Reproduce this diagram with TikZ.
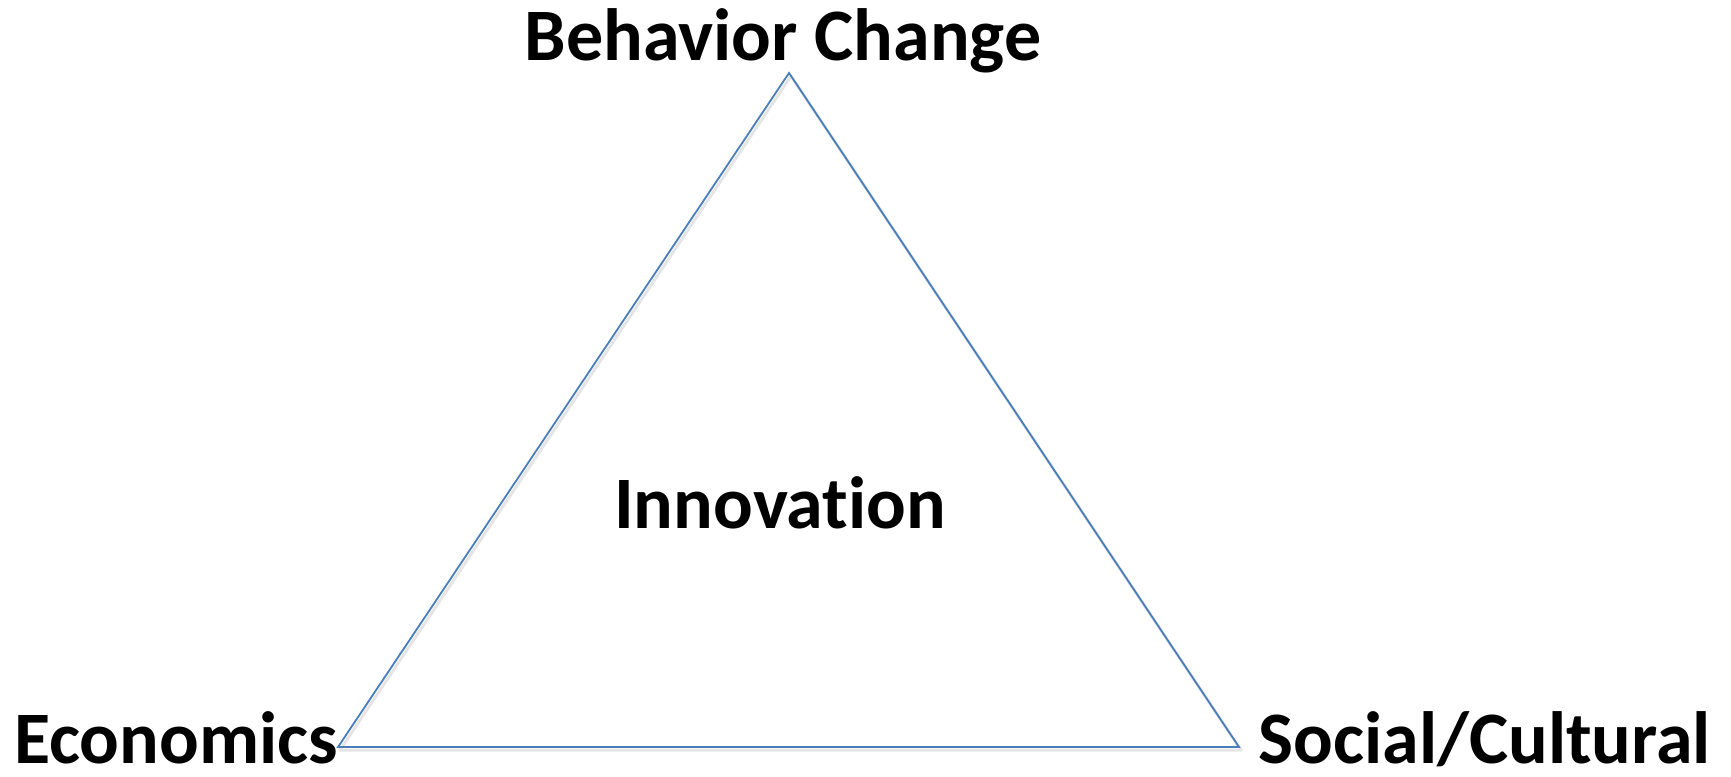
\documentclass[tikz,border=0pt]{standalone}
\usepackage{fontspec}
\setmainfont[Ligatures=CommonOff]{Carlito}
\definecolor{triline}{HTML}{4A7EBB}
\begin{document}
\begin{tikzpicture}[x=1pt,y=-1pt,
  lbl/.style={inner sep=0pt,font=\fontsize{74}{82}\selectfont\bfseries,text=black},
  tri/.style={draw=triline,line width=1.8pt,line join=miter},
  trishadow/.style={draw=black!10,line width=3pt,line join=round}]
\useasboundingbox (0,0) rectangle (1731,776);
\coordinate (top) at (789,73);
\coordinate (left) at (338,747);
\coordinate (right) at (1239,747);
\draw[trishadow] ([shift={(2,3)}]top) -- ([shift={(2,3)}]left) -- ([shift={(2,3)}]right) -- cycle;
\draw[tri] (top) -- (left) -- (right) -- cycle;
\node[lbl,anchor=base] (bc) at (783,60) {Behavior Change};
\node[lbl,anchor=base] (inn) at (780,528) {Innovation};
\node[lbl,anchor=base west,text depth=0pt] (eco) at (14,763) {Economics};
\node[lbl,anchor=base east,text depth=0pt] (soc) at (1711,763) {Social/Cultural};
\end{tikzpicture}
\end{document}
